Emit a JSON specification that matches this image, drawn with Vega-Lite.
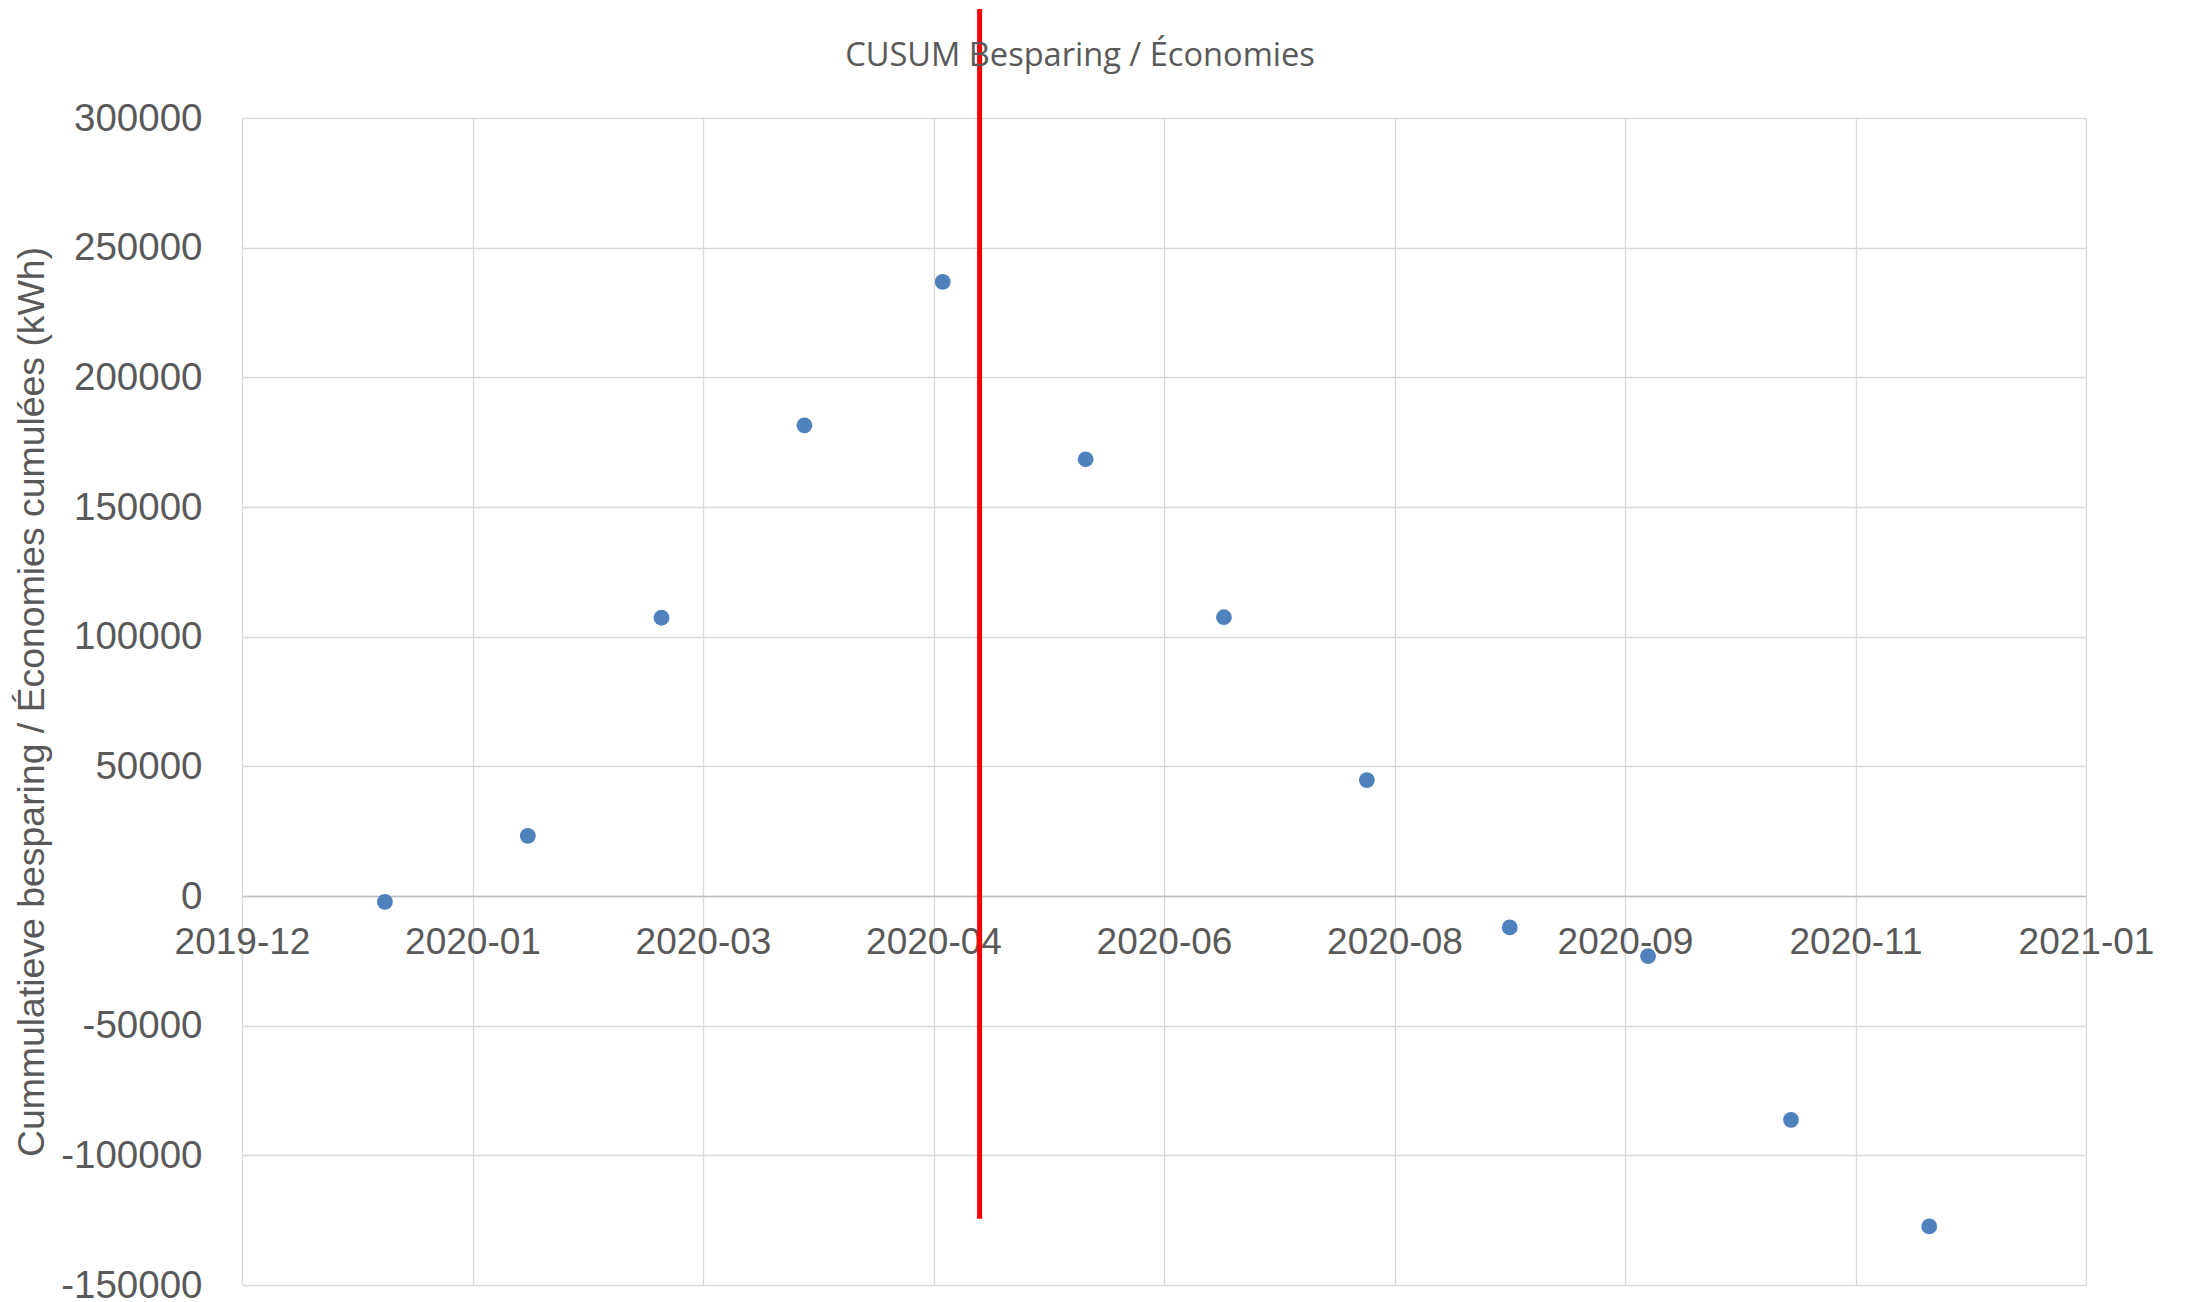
{
  "$schema": "https://vega.github.io/schema/vega-lite/v6.json",
  "width": 1844,
  "height": 1167,
  "autosize": {"type": "none"},
  "padding": {"left": 242, "top": 118, "right": 99, "bottom": 17},
  "background": "white",
  "title": {
    "text": "CUSUM Besparing / Économies",
    "font": "Open Sans",
    "fontSize": 32.6,
    "fontWeight": "normal",
    "color": "#595959",
    "anchor": "middle",
    "baseline": "alphabetic",
    "dx": -84,
    "offset": -92
  },
  "config": {
    "view": {"stroke": null},
    "axis": {
      "labelFont": "Liberation Sans",
      "labelFontSize": 37,
      "labelColor": "#595959",
      "titleFont": "Liberation Sans",
      "titleFontSize": 37.4,
      "titleColor": "#595959",
      "titleFontWeight": "normal",
      "gridColor": "#d9d9d9",
      "gridWidth": 1.3,
      "ticks": false
    }
  },
  "layer": [
    {
      "data": {
        "values": [
          {"maand": "2020-01-01", "cusum": -2300},
          {"maand": "2020-02-01", "cusum": 23200},
          {"maand": "2020-03-01", "cusum": 107300},
          {"maand": "2020-04-01", "cusum": 181500},
          {"maand": "2020-05-01", "cusum": 236800},
          {"maand": "2020-06-01", "cusum": 168400},
          {"maand": "2020-07-01", "cusum": 107500},
          {"maand": "2020-08-01", "cusum": 44700},
          {"maand": "2020-09-01", "cusum": -12100},
          {"maand": "2020-10-01", "cusum": -23200},
          {"maand": "2020-11-01", "cusum": -86300},
          {"maand": "2020-12-01", "cusum": -127400}
        ]
      },
      "mark": {"type": "circle", "size": 250, "color": "#4f81bd", "opacity": 1},
      "encoding": {
        "x": {
          "field": "maand",
          "type": "temporal",
          "scale": {
            "type": "utc",
            "domain": [
              {"year": 2019, "month": 12, "date": 1, "utc": true},
              {"year": 2021, "month": 1, "date": 4, "utc": true}
            ]
          },
          "axis": {
            "title": null,
            "orient": "bottom",
            "offset": -389,
            "format": "%Y-%m",
            "values": [
              {"year": 2019, "month": 12, "date": 1, "utc": true},
              {"year": 2020, "month": 1, "date": 20, "utc": true},
              {"year": 2020, "month": 3, "date": 10, "utc": true},
              {"year": 2020, "month": 4, "date": 29, "utc": true},
              {"year": 2020, "month": 6, "date": 18, "utc": true},
              {"year": 2020, "month": 8, "date": 7, "utc": true},
              {"year": 2020, "month": 9, "date": 26, "utc": true},
              {"year": 2020, "month": 11, "date": 15, "utc": true},
              {"year": 2021, "month": 1, "date": 4, "utc": true}
            ],
            "grid": true,
            "domain": true,
            "domainColor": "#bfbfbf",
            "domainWidth": 1.5,
            "labelPadding": 28,
            "labelAlign": "center",
            "labelOverlap": false,
            "labelFlush": false
          }
        },
        "y": {
          "field": "cusum",
          "type": "quantitative",
          "scale": {"domain": [-150000, 300000], "nice": false, "zero": false},
          "axis": {
            "title": "Cummulatieve besparing / Économies cumulées (kWh)",
            "values": [-150000, -100000, -50000, 0, 50000, 100000, 150000, 200000, 250000, 300000],
            "labelExpr": "toString(datum.value)",
            "labelFontSize": 38.5,
            "grid": true,
            "domain": false,
            "labelPadding": 40,
            "titlePadding": 9
          }
        }
      }
    },
    {
      "data": {
        "values": [
          {"datum": "2020-05-09", "van": -124500, "tot": 342000}
        ]
      },
      "mark": {"type": "rule", "color": "#ff0000", "strokeWidth": 5, "clip": false},
      "encoding": {
        "x": {"field": "datum", "type": "temporal"},
        "y": {"field": "van", "type": "quantitative"},
        "y2": {"field": "tot"}
      }
    }
  ]
}
